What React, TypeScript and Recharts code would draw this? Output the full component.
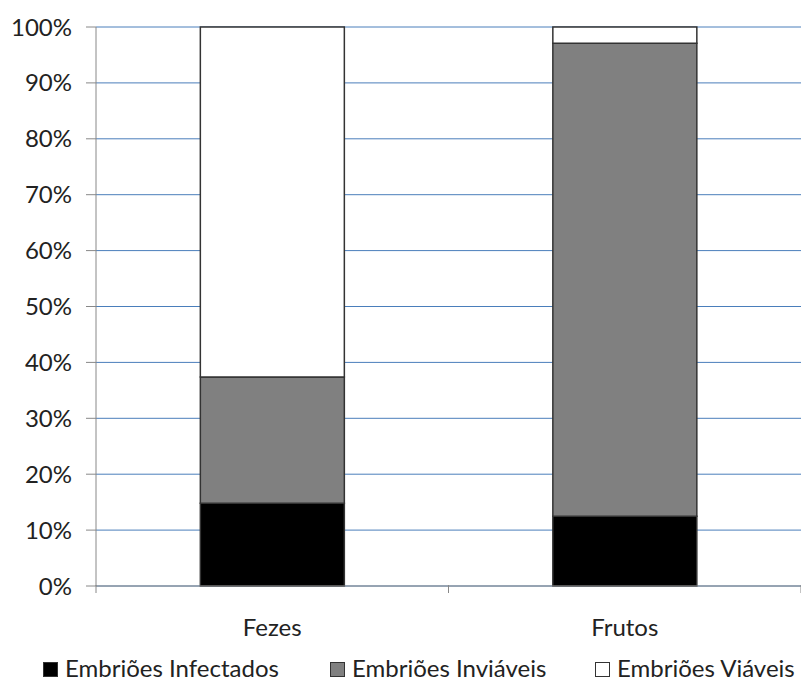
import { Bar, BarChart, CartesianGrid, XAxis, YAxis } from "recharts";

const categories = ["Fezes", "Frutos"];
const infectados = [14.8, 12.5];
const inviaveis = [22.6, 84.6];
const viaveis = [62.6, 2.9];
const yTicks = [0, 10, 20, 30, 40, 50, 60, 70, 80, 90, 100];

const series = [
    { key: "infectados", name: "Embriões Infectados", fill: "#000000" },
    { key: "inviaveis", name: "Embriões Inviáveis", fill: "#808080" },
    { key: "viaveis", name: "Embriões Viáveis", fill: "#ffffff" },
];

const chartData = categories.map((c, i) => ({
    name: c,
    infectados: infectados[i],
    inviaveis: inviaveis[i],
    viaveis: viaveis[i],
}));

const FONT = "Lato, 'Open Sans', sans-serif";
const FS = 24;

const CategoryTick = (props: any) => {
    const { x, y, payload } = props;
    const half = payload && payload.offset ? payload.offset : 176;
    return (
        <g>
            <line x1={x - half} y1={y - 9} x2={x - half} y2={y - 1} stroke="#888" />
            <line x1={x + half} y1={y - 9} x2={x + half} y2={y - 1} stroke="#888" />
            <text x={x} y={y + 42} textAnchor="middle" fontSize={FS} fill="#222" fontFamily={FONT}>
                {payload.value}
            </text>
        </g>
    );
};

const legendX = [43, 330, 595];

export default function App() {
    return (
        <div style={{ position: "absolute", left: 0, top: 0, background: "#fff" }}>
            <div style={{ position: "relative", width: 801, height: 682, overflow: "hidden" }}>
                <BarChart
                    width={801}
                    height={682}
                    data={chartData}
                    margin={{ top: 27, right: 0, left: 0, bottom: 0 }}
                    barCategoryGap="29.6%"
                >
                    <CartesianGrid horizontal vertical={false} stroke="#4a7ebb" strokeWidth={1} />
                    <XAxis
                        dataKey="name"
                        axisLine={{ stroke: "#888" }}
                        tickLine={false}
                        tick={<CategoryTick />}
                        interval={0}
                        height={96}
                    />
                    <YAxis
                        type="number"
                        domain={[0, 100]}
                        ticks={yTicks}
                        interval={0}
                        width={96}
                        axisLine={{ stroke: "#888" }}
                        tickLine={{ stroke: "#888" }}
                        tickSize={10}
                        tickFormatter={(v: number) => `${v}%`}
                        tick={{ fontSize: FS, fill: "#222", fontFamily: FONT }}
                        tickMargin={14}
                    />
                    {series.map((s) => (
                        <Bar
                            key={s.key}
                            dataKey={s.key}
                            name={s.name}
                            stackId="a"
                            fill={s.fill}
                            stroke="#333"
                            strokeWidth={1.5}
                            isAnimationActive={false}
                        />
                    ))}
                </BarChart>
                {series.map((s, i) => (
                    <div
                        key={s.key}
                        style={{
                            position: "absolute",
                            left: legendX[i],
                            top: 657,
                            display: "flex",
                            alignItems: "center",
                            fontFamily: FONT,
                            fontSize: 24,
                            lineHeight: "22px",
                            color: "#222",
                            whiteSpace: "nowrap",
                        }}
                    >
                        <span
                            style={{
                                display: "inline-block",
                                width: 13,
                                height: 13,
                                background: s.fill,
                                border: "1px solid #333",
                                marginRight: 7,
                                marginTop: 3,
                            }}
                        />
                        {s.name}
                    </div>
                ))}
            </div>
        </div>
    );
}
